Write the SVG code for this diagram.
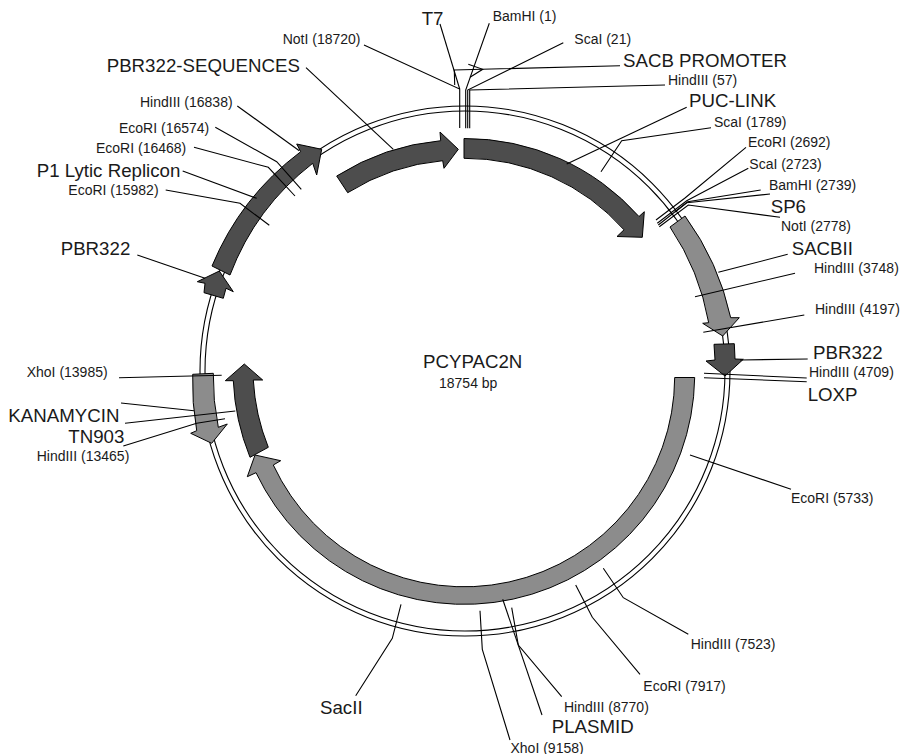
<svg xmlns="http://www.w3.org/2000/svg" width="901" height="754" viewBox="0 0 901 754">
<style>
text{font-family:"Liberation Sans",Arial,sans-serif;fill:#1a1a1a}
.s{font-size:14px}
.l{font-size:18.7px}
.d{fill:#4d4d4d;stroke:#000;stroke-width:1}
.g{fill:#8c8c8c;stroke:#000;stroke-width:1}
.ring{fill:none;stroke:#000;stroke-width:1.1}
#connectors polyline{fill:none;stroke:#000;stroke-width:1.1}
</style>
<rect width="901" height="754" fill="#fff"/>
<g id="plasmid-ring"><circle class="ring" cx="465" cy="371" r="265"/><circle class="ring" cx="465" cy="371" r="260"/></g>
<g id="feature-puc-link"><path class="d" d="M464,138.5A232.7,232.7 0 0 1 639,216.5L644.3,211.7L642.3,237.3L617,236.5L624,229.8A212.7,212.7 0 0 0 464,158.3Z"/></g>
<g id="feature-pbr322-sequences"><path class="d" d="M336.7,176A233.4,233.4 0 0 1 440.7,140.7L440,132L458.3,149.3L444,168.3L442.7,160.7A213.4,213.4 0 0 0 347.7,192.7Z"/></g>
<g id="feature-p1-lytic"><path class="d" d="M212,266A274,274 0 0 1 300.7,151.7L296.7,144L321.7,149.3L316.7,175L312.7,163.3A256,256 0 0 0 230,275Z"/></g>
<g id="feature-pbr322-left"><path class="d" d="M219.3,271L197.3,281.7L205,283.3L204,292.7L223.3,298.3L226,288.3L233.3,291.7Z"/></g>
<g id="feature-sacbii"><path class="g" d="M685,216A269.5,269.5 0 0 1 730.7,317.7L739.3,317.7L722.7,336L702.7,323.3L708.7,322.7A249,249 0 0 0 670,227Z"/></g>
<g id="feature-pbr322-right"><path class="d" d="M714,344.3L734.3,343.7L735,359L743.3,359.3L725,376L706,361L715,360Z"/></g>
<g id="feature-plasmid"><path class="g" d="M694.7,377.5A230.5,230.5 0 0 1 256,472.7L247.3,476.7L255,455L280.7,460.7L273.3,465A210.5,210.5 0 0 0 674.7,377.5Z"/></g>
<g id="feature-kanamycin"><path class="g" d="M192.7,374.3L213.3,373.3A252,252 0 0 0 218.3,427.3L227.3,424L211.7,443.3L190.7,433.3L196.7,430.7A273,273 0 0 1 192.7,374.3Z"/></g>
<g id="feature-tn903"><path class="d" d="M244.3,364L262.7,380L253.3,380A212,212 0 0 0 268.3,447.3L250,457.3A232,232 0 0 1 233.3,380.7L225.3,380.7Z"/></g>
<g id="connectors">
<polyline points="364,45 459.7,89 459.7,128"/>
<polyline points="440,24 459.7,89"/>
<polyline points="620,65.7 454.3,70 454.7,85"/>
<polyline points="468.3,64.3 482.7,69.3 470,77.3"/>
<polyline points="489.3,23.3 465.7,90 465.7,128.3"/>
<polyline points="563.3,42.7 467.7,90 467.7,128.3"/>
<polyline points="665,85 469.7,90 469.7,128.3"/>
<polyline points="686.7,107.3 566.7,164"/>
<polyline points="711,127.7 621.7,140.7 601,171.7"/>
<polyline points="746,147.3 685,198 656,220"/>
<polyline points="748.3,168.3 686.7,200.7 657.3,223.3"/>
<polyline points="760.7,190 687.7,201.7 658.3,225"/>
<polyline points="770,194 686.7,202.7 675,212"/>
<polyline points="780,217.3 688.3,205 659.3,226.7"/>
<polyline points="787.7,254.3 718.3,272.3"/>
<polyline points="795,273.3 695,296.7"/>
<polyline points="804.3,315 703.3,332.3"/>
<polyline points="807.7,359 740,360"/>
<polyline points="806.7,378 704,373.3"/>
<polyline points="806.7,381.7 704,377.7"/>
<polyline points="791,489.3 690,455"/>
<polyline points="688.3,634.3 623.3,597.7 603.3,568.3"/>
<polyline points="640,674.3 592.3,617.3 575.7,585"/>
<polyline points="561.7,696.7 518.3,645 511.7,607.7"/>
<polyline points="542,715 502.7,599.3"/>
<polyline points="510,740 482.3,649.3 480,610.7"/>
<polyline points="355.7,695.7 392.3,638.3 401,604.3"/>
<polyline points="306,67.7 393.3,149.3"/>
<polyline points="237.3,106 299.3,150.7"/>
<polyline points="215.3,127.3 276.7,161.7 301.3,189.3"/>
<polyline points="194,147.3 268.3,167.3 295,196"/>
<polyline points="182.7,171 256.7,198.3"/>
<polyline points="165.7,190 240,203.3 269.3,225.3"/>
<polyline points="137.3,255 205,278.3"/>
<polyline points="119,377.7 221.7,375.3"/>
<polyline points="121,403 194,410.7"/>
<polyline points="125,423.3 235.3,411"/>
<polyline points="123.3,446 196.7,423.3 225,418.7"/>
</g>
<g id="labels">
<text class="l" x="421.7" y="25">T7</text>
<text class="s" x="492.7" y="21">BamHI (1)</text>
<text class="s" x="574.3" y="44">ScaI (21)</text>
<text class="l" x="623" y="66.7">SACB PROMOTER</text>
<text class="s" x="668" y="85">HindIII (57)</text>
<text class="l" x="689" y="107">PUC-LINK</text>
<text class="s" x="714" y="127">ScaI (1789)</text>
<text class="s" x="748" y="147">EcoRI (2692)</text>
<text class="s" x="749.3" y="168.7">ScaI (2723)</text>
<text class="s" x="769" y="190">BamHI (2739)</text>
<text class="l" x="770.7" y="212.7">SP6</text>
<text class="s" x="781" y="231">NotI (2778)</text>
<text class="l" x="791.7" y="255">SACBII</text>
<text class="s" x="814" y="273.3">HindIII (3748)</text>
<text class="s" x="815" y="314.3">HindIII (4197)</text>
<text class="l" x="813" y="359">PBR322</text>
<text class="s" x="809" y="376.7">HindIII (4709)</text>
<text class="l" x="807.7" y="400.7">LOXP</text>
<text class="s" x="791" y="503">EcoRI (5733)</text>
<text class="s" x="690.7" y="649">HindIII (7523)</text>
<text class="s" x="643.3" y="690.7">EcoRI (7917)</text>
<text class="s" x="564" y="711.7">HindIII (8770)</text>
<text class="l" x="551.7" y="733.3">PLASMID</text>
<text class="s" x="510.5" y="752.5">XhoI (9158)</text>
<text class="l" x="320" y="714">SacII</text>
<text class="s" x="140" y="106.7">HindIII (16838)</text>
<text class="s" x="119" y="132.7">EcoRI (16574)</text>
<text class="s" x="96" y="153.3">EcoRI (16468)</text>
<text class="l" x="36.7" y="176.7">P1 Lytic Replicon</text>
<text class="s" x="68.3" y="195.3">EcoRI (15982)</text>
<text class="l" x="60.7" y="255">PBR322</text>
<text class="l" x="106.7" y="71.7">PBR322-SEQUENCES</text>
<text class="s" x="282.7" y="44">NotI (18720)</text>
<text class="s" x="26.7" y="376.7">XhoI (13985)</text>
<text class="l" x="8.3" y="421.7">KANAMYCIN</text>
<text class="l" x="68.3" y="442.7">TN903</text>
<text class="s" x="36.7" y="460.7">HindIII (13465)</text>
<text class="l" x="423" y="368.3">PCYPAC2N</text>
<text class="s" x="439" y="387.7">18754 bp</text>
</g>
</svg>
